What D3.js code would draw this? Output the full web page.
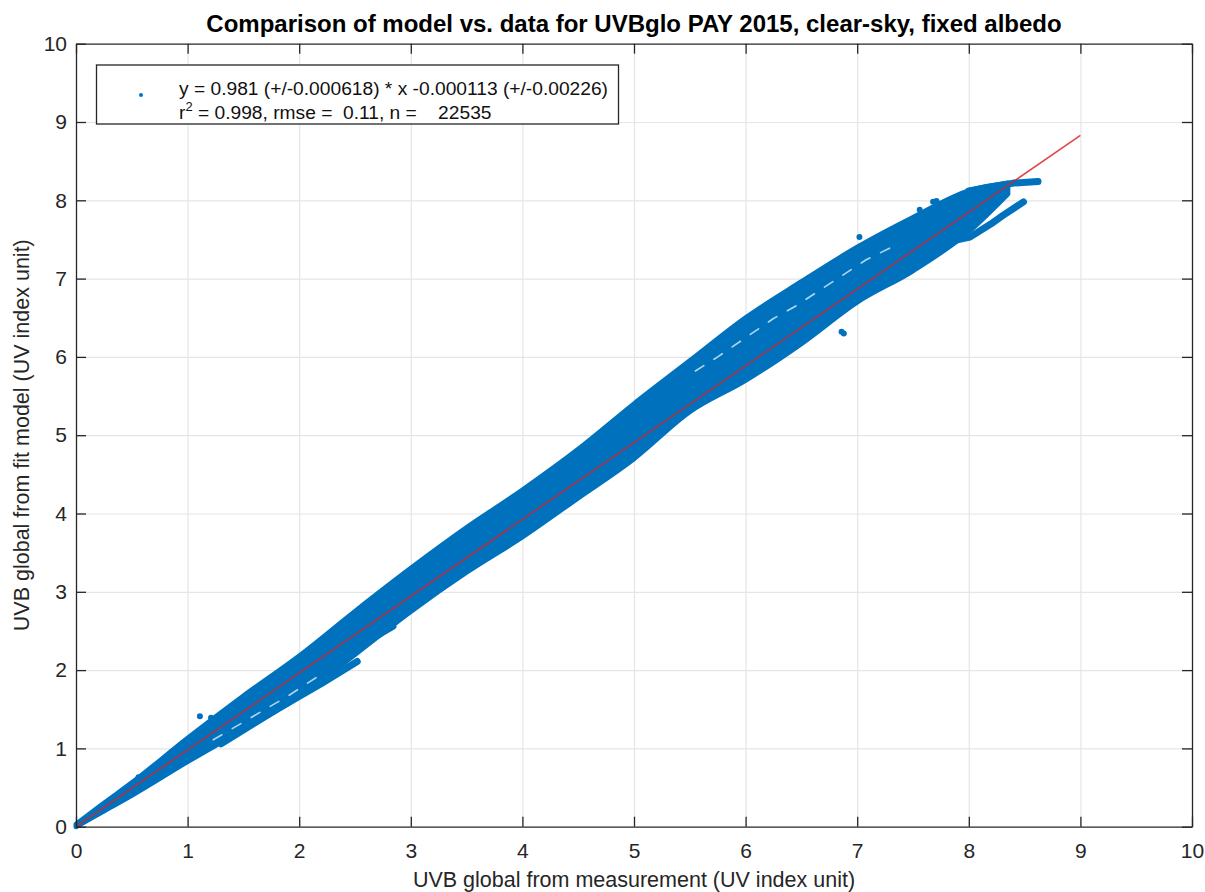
<!DOCTYPE html>
<html>
<head>
<meta charset="utf-8">
<script src="https://cdn.jsdelivr.net/npm/d3@7"></script>
<style>
  body { margin: 0; background: #fff; }
  svg { font-family: "Liberation Sans", Arial, sans-serif; }
  .grid line { stroke: #e5e5e5; stroke-width: 1.2; }
  .grid path { display: none; }
  .ax path, .ax line { stroke: #262626; stroke-width: 1.3; }
  .ax text { fill: #262626; font-size: 21px; }
</style>
</head>
<body>
<svg id="chart" width="1205" height="892"></svg>
<script>
// ticks
const xTicks = [0, 1, 2, 3, 4, 5, 6, 7, 8, 9, 10]
const yTicks = [0, 1, 2, 3, 4, 5, 6, 7, 8, 9, 10]

// envelope of the dense point cloud
const bandX     = [0, 0.25, 0.5, 1, 1.5, 2, 2.5, 3, 3.5, 4, 4.5, 5, 5.5, 6, 6.5, 7, 7.5, 8, 8.35]
const bandUpper = [0.03, 0.3, 0.56, 1.13, 1.67, 2.18, 2.75, 3.3, 3.82, 4.3, 4.82, 5.4, 5.95, 6.5, 6.96, 7.4, 7.78, 8.12, 8.22]
const bandLower = [0, 0.2, 0.4, 0.83, 1.24, 1.66, 2.2, 2.75, 3.25, 3.7, 4.2, 4.7, 5.3, 5.7, 6.17, 6.7, 7.1, 7.6, 8.08]

// separate strands sticking out of the cloud
const strandLowX = [1.3, 1.8, 2.2, 2.52]
const strandLowY = [1.06, 1.5, 1.83, 2.11]
const strandBumpX = [2.6, 2.84]
const strandBumpY = [2.36, 2.56]
const strandTopX = [8.0, 8.2, 8.4, 8.62]
const strandTopY = [8.12, 8.17, 8.22, 8.24]
const strandMidX = [7.75, 8.01, 8.2, 8.3, 8.49]
const strandMidY = [7.45, 7.53, 7.7, 7.8, 7.98]

// white gaps inside the cloud
const gapLowX = [1.23, 1.6, 1.9, 2.19]
const gapLowY = [1.11, 1.42, 1.67, 1.94]
const gapUpX = [5.55, 5.75, 6.25, 6.45, 7.08, 7.32]
const gapUpY = [5.82, 6.0, 6.49, 6.65, 7.24, 7.41]

// isolated points
const outX = [0.56, 1.11, 1.21, 6.86, 6.88, 7.02, 7.56, 7.68, 7.71]
const outY = [0.63, 1.41, 1.39, 6.32, 6.30, 7.53, 7.88, 7.98, 7.99]

// fit
const slope = 0.981
const intercept = -0.000113
const fitX = [0, 9]

const titleText = "Comparison of model vs. data for UVBglo PAY 2015, clear-sky, fixed albedo"
const xLabel = "UVB global from measurement (UV index unit)"
const yLabel = "UVB global from fit model (UV index unit)"

const blue = "#0072BD"
const red = "#D8232A"

const svg = d3.select("#chart")
const x = d3.scaleLinear().domain([0, 10]).range([76, 1192])
const y = d3.scaleLinear().domain([0, 10]).range([826.7, 43.7])

const pairs = (xs, ys) => xs.map((v, i) => [v, ys[i]])
const line = d3.line().x(d => x(d[0])).y(d => y(d[1]))

//grid
svg.append("g").attr("class", "grid")
  .attr("transform", `translate(0,${y(0)})`)
  .call(d3.axisBottom(x).tickValues(xTicks.slice(1, -1)).tickSize(-(y(0) - y(10))).tickFormat(""))
svg.append("g").attr("class", "grid")
  .attr("transform", `translate(${x(0)},0)`)
  .call(d3.axisLeft(y).tickValues(yTicks.slice(1, -1)).tickSize(-(x(10) - x(0))).tickFormat(""))

//cloud
const band = bandX.map((v, i) => ({x: v, lo: bandLower[i], hi: bandUpper[i]}))
svg.append("path")
  .datum(band)
  .attr("d", d3.area().x(d => x(d.x)).y0(d => y(d.lo)).y1(d => y(d.hi)).curve(d3.curveMonotoneX))
  .attr("fill", blue).attr("stroke", blue).attr("stroke-width", 5).attr("stroke-linejoin", "round")

const strands = [
  pairs(strandLowX, strandLowY),
  pairs(strandBumpX, strandBumpY),
  pairs(strandTopX, strandTopY),
  pairs(strandMidX, strandMidY)
]
svg.selectAll(".strand").data(strands).enter()
  .append("path").attr("class", "strand")
  .attr("d", line)
  .attr("fill", "none").attr("stroke", blue).attr("stroke-width", 7)
  .attr("stroke-linecap", "round").attr("stroke-linejoin", "round")

svg.selectAll(".gap").data([pairs(gapLowX, gapLowY), pairs(gapUpX, gapUpY)]).enter()
  .append("path").attr("class", "gap")
  .attr("d", line)
  .attr("fill", "none").attr("stroke", "#fff").attr("stroke-width", 1.6)
  .attr("stroke-dasharray", "10 12").attr("stroke-linecap", "round").attr("opacity", 0.7)

svg.selectAll(".out").data(pairs(outX, outY)).enter()
  .append("circle").attr("class", "out")
  .attr("cx", d => x(d[0])).attr("cy", d => y(d[1])).attr("r", 3)
  .attr("fill", blue)

//fit line
svg.append("path")
  .datum(fitX.map(v => [v, slope * v + intercept]))
  .attr("d", line)
  .attr("fill", "none").attr("stroke", red).attr("stroke-width", 1.5).attr("stroke-opacity", 0.85)

//axes, ticks inside, box
svg.append("g").attr("class", "ax")
  .attr("transform", `translate(0,${y(0)})`)
  .call(d3.axisBottom(x).tickValues(xTicks).tickSize(-10).tickPadding(16).tickSizeOuter(0))
svg.append("g").attr("class", "ax")
  .attr("transform", `translate(${x(0)},0)`)
  .call(d3.axisLeft(y).tickValues(yTicks).tickSize(-10).tickPadding(9).tickSizeOuter(0))
svg.append("g").attr("class", "ax")
  .attr("transform", `translate(0,${y(10)})`)
  .call(d3.axisTop(x).tickValues(xTicks).tickSize(-10).tickFormat("").tickSizeOuter(0))
svg.append("g").attr("class", "ax")
  .attr("transform", `translate(${x(10)},0)`)
  .call(d3.axisRight(y).tickValues(yTicks).tickSize(-10).tickFormat("").tickSizeOuter(0))

//legend
const lg = svg.append("g")
lg.append("rect").attr("x", 96.5).attr("y", 65).attr("width", 522).attr("height", 59)
  .attr("fill", "#fff").attr("stroke", "#262626").attr("stroke-width", 1.3)
lg.append("circle").attr("cx", 141).attr("cy", 95).attr("r", 2).attr("fill", blue)
lg.append("text").attr("x", 179).attr("y", 95).attr("font-size", 19.2).attr("fill", "#111")
  .text("y = 0.981 (+/-0.000618) * x -0.000113 (+/-0.00226)")
const t2 = lg.append("text").attr("x", 179).attr("y", 119).attr("font-size", 19.2).attr("fill", "#111")
  .attr("xml:space", "preserve")
t2.append("tspan").text("r")
t2.append("tspan").attr("dy", -8).attr("font-size", 13).text("2")
t2.append("tspan").attr("dy", 8).text(" = 0.998, rmse =  0.11, n =    22535")

//titles
svg.append("text").attr("x", (x(0) + x(10)) / 2).attr("y", 32)
  .attr("text-anchor", "middle").attr("font-weight", "bold").attr("font-size", 24).attr("fill", "#000")
  .text(titleText)
svg.append("text").attr("x", (x(0) + x(10)) / 2).attr("y", 887)
  .attr("text-anchor", "middle").attr("font-size", 21.5).attr("fill", "#262626")
  .text(xLabel)
svg.append("text").attr("transform", `translate(29,${(y(0) + y(10)) / 2}) rotate(-90)`)
  .attr("text-anchor", "middle").attr("font-size", 21.5).attr("fill", "#262626")
  .text(yLabel)
</script>
</body>
</html>
